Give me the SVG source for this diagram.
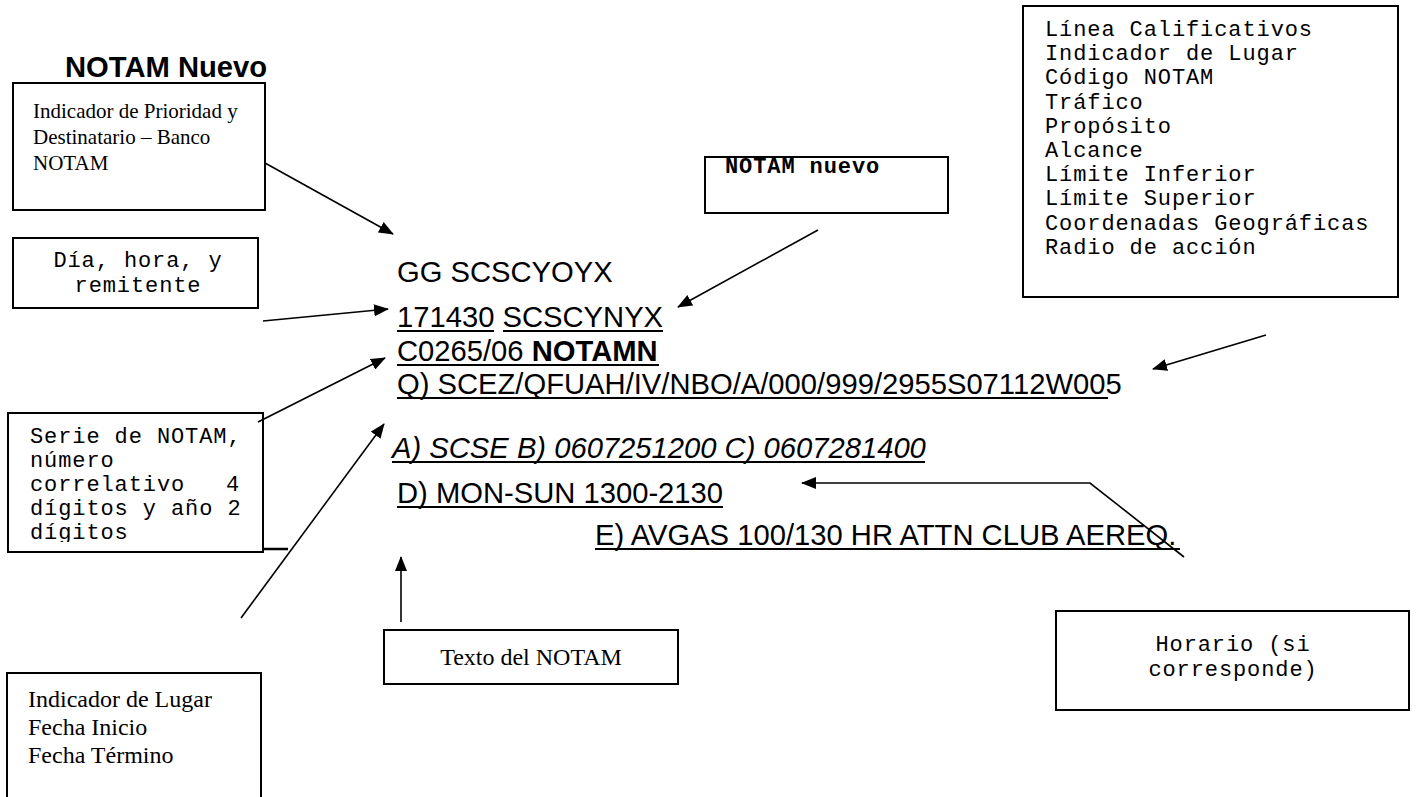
<svg xmlns="http://www.w3.org/2000/svg" width="1424" height="797" viewBox="0 0 1424 797">
<style>
.box{fill:#fff;stroke:#000;stroke-width:2}
.tm{font-family:"Liberation Serif","Times New Roman",serif;fill:#000}
.cr{font-family:"Liberation Mono","Courier New",monospace;font-size:22px;letter-spacing:0.9px;fill:#000}
.ar{font-family:"Liberation Sans",Arial,sans-serif;font-size:29.2px;fill:#000}
.ln{fill:none;stroke:#000;stroke-width:1.6}
.ul{fill:#000}
</style>
<defs>
<marker id="ah" markerWidth="15" markerHeight="12" refX="14" refY="6" orient="auto" markerUnits="userSpaceOnUse">
<path d="M0,0 L15,6 L0,12 z" fill="#000"/>
</marker>
<clipPath id="clipSerie"><rect x="8" y="413" width="255" height="129"/></clipPath>
</defs>
<rect width="1424" height="797" fill="#fff"/>

<text class="ar" x="65" y="77" font-weight="bold">NOTAM Nuevo</text>

<g id="node-prioridad">
<rect class="box" x="13" y="83" width="252" height="127"/>
<text class="tm" font-size="21" x="33" y="118">Indicador de Prioridad y</text>
<text class="tm" font-size="21" x="33" y="144">Destinatario – Banco</text>
<text class="tm" font-size="21" x="33" y="170">NOTAM</text>
</g>

<g id="node-dia">
<rect class="box" x="13" y="238" width="245" height="70"/>
<text class="cr" x="138" y="267" text-anchor="middle">Día, hora, y</text>
<text class="cr" x="138" y="292" text-anchor="middle">remitente</text>
</g>

<g id="node-nuevo">
<rect class="box" x="705" y="157" width="243" height="56"/>
<text class="cr" x="725" y="173" font-weight="bold">NOTAM nuevo</text>
</g>

<g id="node-calificativos">
<rect class="box" x="1023" y="6" width="375" height="291"/>
<text class="cr" x="1045" y="36">Línea Calificativos</text>
<text class="cr" x="1045" y="60">Indicador de Lugar</text>
<text class="cr" x="1045" y="84">Código NOTAM</text>
<text class="cr" x="1045" y="109">Tráfico</text>
<text class="cr" x="1045" y="133">Propósito</text>
<text class="cr" x="1045" y="157">Alcance</text>
<text class="cr" x="1045" y="181">Límite Inferior</text>
<text class="cr" x="1045" y="205">Límite Superior</text>
<text class="cr" x="1045" y="230">Coordenadas Geográficas</text>
<text class="cr" x="1045" y="254">Radio de acción</text>
</g>

<g id="node-serie">
<rect class="box" x="8" y="413" width="255" height="139"/>
<g clip-path="url(#clipSerie)">
<text class="cr" x="30" y="443">Serie de NOTAM,</text>
<text class="cr" x="30" y="467">número</text>
<text class="cr" x="30" y="491">correlativo</text>
<text class="cr" x="226" y="491">4</text>
<text class="cr" x="30" y="515">dígitos y año 2</text>
<text class="cr" x="30" y="539">dígitos</text>
</g>
</g>

<g id="node-texto">
<rect class="box" x="384" y="630" width="294" height="54"/>
<text class="tm" font-size="24" x="531" y="665" text-anchor="middle">Texto del NOTAM</text>
</g>

<g id="node-lugar">
<rect class="box" x="7" y="673" width="254" height="130"/>
<text class="tm" font-size="24" x="28" y="707">Indicador de Lugar</text>
<text class="tm" font-size="24" x="28" y="735">Fecha Inicio</text>
<text class="tm" font-size="24" x="28" y="763">Fecha Término</text>
</g>

<g id="node-horario">
<rect class="box" x="1056" y="611" width="353" height="99"/>
<text class="cr" x="1233" y="651" text-anchor="middle">Horario (si</text>
<text class="cr" x="1233" y="676" text-anchor="middle">corresponde)</text>
</g>

<g id="node-mensaje">
<text class="ar" x="397" y="282">GG SCSCYOYX</text>
<text class="ar" x="397" y="327">171430 SCSCYNYX</text>
<rect class="ul" x="397" y="330" width="97" height="2"/>
<rect class="ul" x="503" y="330" width="160" height="2"/>
<text class="ar" x="397" y="361">C0265/06 <tspan font-weight="bold">NOTAMN</tspan></text>
<rect class="ul" x="397" y="364" width="262" height="2"/>
<text class="ar" x="397" y="394">Q) SCEZ/QFUAH/IV/NBO/A/000/999/2955S07112W005</text>
<rect class="ul" x="397" y="397" width="711" height="2"/>
<text class="ar" x="392" y="458" font-style="italic">A) SCSE B) 0607251200 C) 0607281400</text>
<rect class="ul" x="392" y="461" width="533" height="2"/>
<text class="ar" x="397" y="503">D) MON-SUN 1300-2130</text>
<rect class="ul" x="397" y="506" width="326" height="2"/>
<text class="ar" x="595" y="545">E) AVGAS 100/130 HR ATTN CLUB AEREQ.</text>
<rect class="ul" x="595" y="548" width="585" height="2"/>
</g>

<g id="connectors">
<line class="ln" x1="265" y1="163" x2="393" y2="234" marker-end="url(#ah)"/>
<line class="ln" x1="263" y1="321" x2="388" y2="309" marker-end="url(#ah)"/>
<line class="ln" x1="818" y1="230" x2="678" y2="307" marker-end="url(#ah)"/>
<line class="ln" x1="1266" y1="335" x2="1153" y2="369" marker-end="url(#ah)"/>
<line class="ln" x1="258" y1="422" x2="385" y2="358" marker-end="url(#ah)"/>
<line class="ln" x1="241" y1="618" x2="384" y2="424" marker-end="url(#ah)"/>
<line class="ln" x1="401" y1="622" x2="401" y2="557" marker-end="url(#ah)"/>
<polyline class="ln" points="1184,557 1090,483 802,483" marker-end="url(#ah)"/>
<line x1="263" y1="549" x2="288" y2="549" stroke="#000" stroke-width="2.5"/>
</g>
</svg>
